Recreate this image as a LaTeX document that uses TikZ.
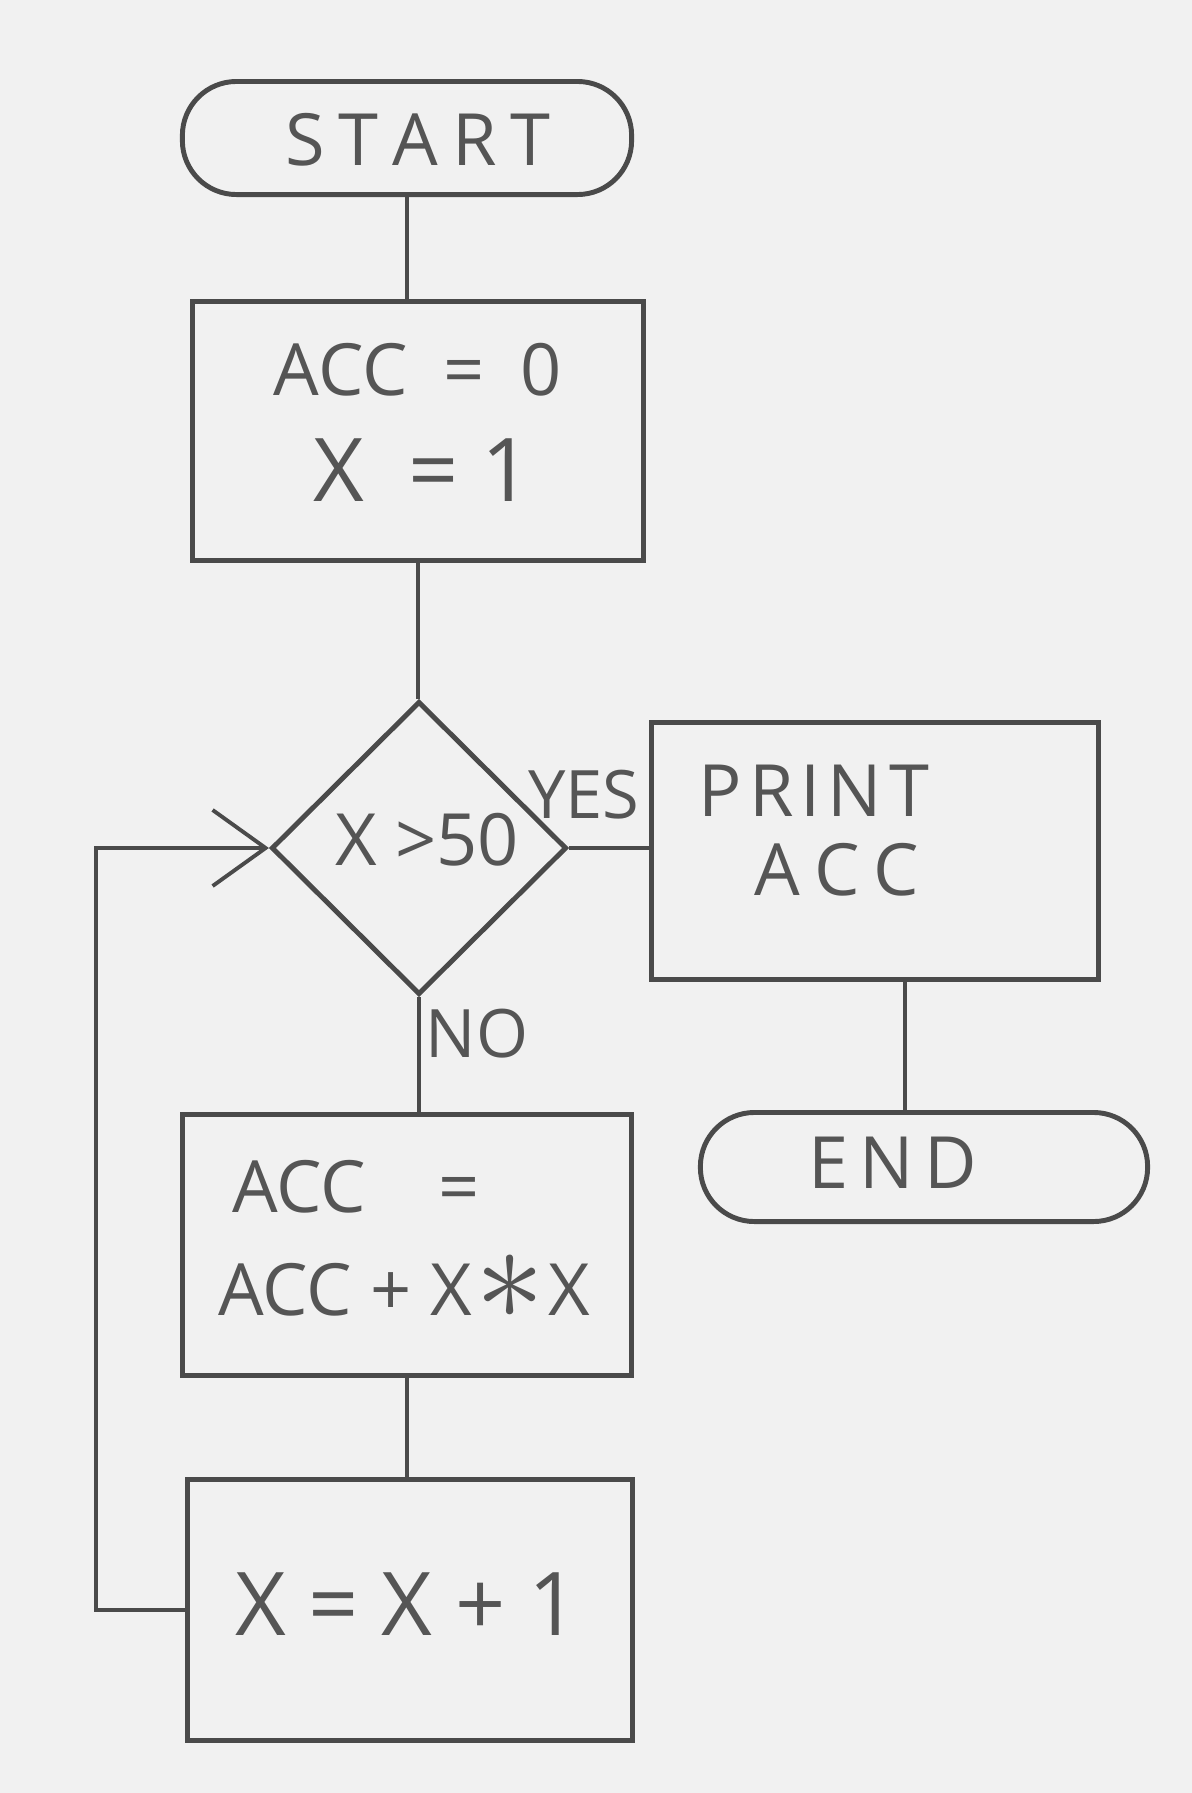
\documentclass[tikz,border=0pt]{standalone}
\usepackage{fontspec}
\usepackage{graphicx}
\newfontfamily\hand{Open Sans}
\usetikzlibrary{shapes.geometric,arrows.meta}
\definecolor{paper}{HTML}{F1F1F1}
\definecolor{pencil}{HTML}{4A4A4A}
\definecolor{pencilt}{HTML}{555555}
\tikzset{
  boxshape/.style={draw=pencil, line width=1.4pt, rectangle, inner sep=0pt},
  termshape/.style={draw=pencil, line width=1.4pt, rectangle, rounded corners=0.54cm, inner sep=0pt},
  decshape/.style={draw=pencil, line width=1.4pt, diamond, inner sep=0pt, minimum width=2.95cm, minimum height=2.93cm},
  conn/.style={draw=pencil, line width=1.1pt},
  txt/.style={text=pencilt, inner sep=0pt, font=\hand\fontsize{20.5}{24}\selectfont},
  smalltxt/.style={text=pencilt, inner sep=0pt, font=\hand\fontsize{19}{22}\selectfont},
  bigtxt/.style={text=pencilt, inner sep=0pt, font=\hand\fontsize{25}{30}\selectfont},
}
\newcommand{\bigast}{\raisebox{-0.05em}{\scalebox{1.9}{$\ast$}}}
\begin{document}
\begin{tikzpicture}[x=0.01cm, y=-0.01cm]
\fill[paper] (0,0) rectangle (1192,1793);
\useasboundingbox (0,0) rectangle (1192,1793);

% shapes
\node[termshape, minimum width=4.49cm, minimum height=1.13cm] (start) at (407,138) {};
\node[boxshape, minimum width=4.50cm, minimum height=2.58cm] (init) at (418,431) {};
\node[decshape] (dec) at (419,848) {};
\node[boxshape, minimum width=4.47cm, minimum height=2.57cm] (print) at (875,851) {};
\node[termshape, minimum width=4.47cm, minimum height=1.09cm] (end) at (924,1167) {};
\node[boxshape, minimum width=4.49cm, minimum height=2.60cm] (body) at (407,1245) {};
\node[boxshape, minimum width=4.45cm, minimum height=2.60cm] (incr) at (410,1610) {};

% texts
\node[txt] (tstart) at (418,140) {S\kern4pt T\kern4pt A\kern4pt R\kern4pt T};
\node[txt] (tinit1) at (418,370) {ACC\enspace =\enspace 0};
\node[bigtxt] (tinit2) at (423,470) {X\enspace = 1};
\node[txt] (tdec) at (427,840) {X >50};
\node[smalltxt] (tyes) at (584,795) {YES};
\node[txt] (tprint1) at (814,791) {P\kern2pt R\kern2pt I\kern2pt N\kern2pt T};
\node[txt] (tprint2) at (837,870) {A\kern4pt C\kern4pt C};
\node[txt] (tend) at (893,1163) {E\kern3pt N\kern3pt D};
\node[smalltxt] (tno) at (477,1034) {NO};
\node[txt] (tbody1) at (356,1187) {ACC\quad =};
\node[txt] (tbody2) at (404,1287) {ACC + X\kern1pt\bigast\kern1pt X};
\node[bigtxt] (tincr) at (407,1604) {X = X + 1};

% connectors
\coordinate (loopx) at (96,0);
\coordinate (pex) at (905,0);
\draw[conn] (start.south) -- (start.south |- init.north);
\draw[conn] (init.south) -- (init.south |- dec.north);
\draw[conn] (dec.east) -- (dec.east -| print.west);
\draw[conn] (pex |- print.south) -- (pex |- end.north);
\draw[conn] (dec.south) -- (dec.south |- body.north);
\draw[conn] (body.south) -- (body.south |- incr.north);
\draw[conn, -{Straight Barb[length=0.53cm, width=0.76cm, line width=1.1pt]}]
  (incr.west) -- (incr.west -| loopx) -- (loopx |- dec.west) -- (dec.west);
\end{tikzpicture}
\end{document}
